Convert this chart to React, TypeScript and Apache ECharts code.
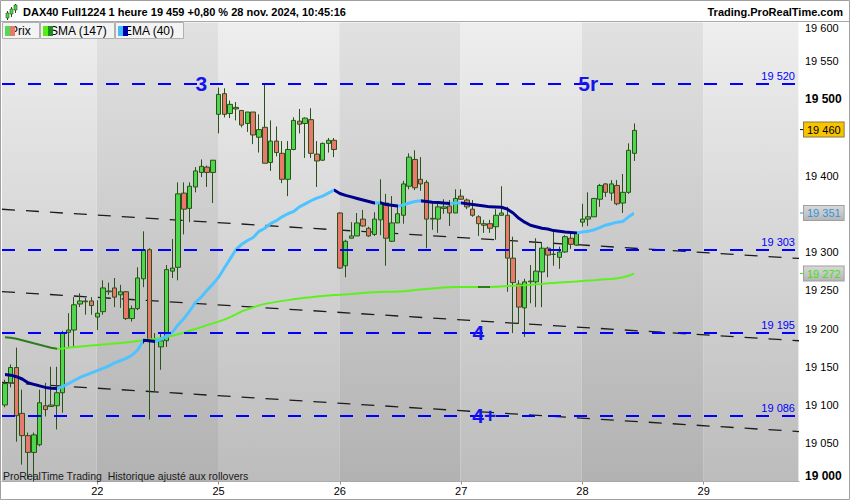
import React, { useEffect, useRef } from "react";
import * as echarts from "echarts";

const FONT = 'Arial, "Liberation Sans", Helvetica, sans-serif';

// ---- time axis ----
const dayNames = ["21", "22", "25", "26", "27", "28", "29"];
const dayFirstHour = [6, 1, 1, 1, 1, 1, 1];
const dayLastHour = [21, 21, 21, 21, 21, 21, 17];

// ---- hourly candles (DAX40 Full1224) ----
const opens = [
  19100, 19129, 19149, 19089, 19060, 19038, 19048, 19099, 19098, 19099, 19116, 19195, 19198, 19232, 19235, 19236,
  19215, 19222, 19248, 19253, 19244, 19248, 19213, 19226, 19265, 19303, 19186, 19176, 19184, 19275, 19280, 19377, 19357, 19385, 19404, 19411, 19404,
  19480, 19507, 19481, 19489, 19485, 19468, 19483, 19450, 19463, 19417, 19445, 19429, 19395, 19434, 19471, 19468, 19473, 19428, 19420, 19442, 19446,
  19351, 19282, 19318, 19321, 19343, 19331, 19323, 19342, 19364, 19314, 19338, 19348, 19386, 19421, 19395, 19391, 19343, 19343, 19357, 19360, 19351,
  19373, 19368, 19356, 19346, 19337, 19337, 19333, 19348, 19348, 19292, 19258, 19227, 19261, 19261, 19274, 19305, 19297, 19293, 19300, 19318, 19309,
  19339, 19343, 19346, 19369, 19389, 19377, 19387, 19364, 19378, 19429,
];
const closes = [
  19128, 19149, 19086, 19060, 19038, 19061, 19103, 19094, 19100, 19116, 19194, 19198, 19231, 19236, 19236, 19230,
  19220, 19253, 19249, 19241, 19248, 19213, 19226, 19266, 19303, 19185, 19186, 19184, 19277, 19279, 19376, 19356, 19386, 19406, 19412, 19404, 19420,
  19506, 19480, 19493, 19487, 19466, 19483, 19453, 19460, 19416, 19445, 19430, 19395, 19434, 19472, 19467, 19475, 19429, 19419, 19442, 19446, 19434,
  19279, 19314, 19321, 19338, 19334, 19321, 19343, 19363, 19318, 19338, 19350, 19389, 19424, 19384, 19389, 19343, 19344, 19359, 19359, 19351, 19370,
  19369, 19359, 19348, 19337, 19335, 19331, 19348, 19351, 19292, 19260, 19228, 19261, 19262, 19275, 19305, 19296, 19297, 19300, 19320, 19310, 19325,
  19343, 19346, 19370, 19387, 19378, 19389, 19363, 19378, 19433, 19459,
];
const lows = [
  19097, 19123, 19052, 19022, 19003, 19000, 19046, 19085, 19098, 19068, 19090, 19176, 19176, 19228, 19218, 19218,
  19198, 19218, 19244, 19228, 19227, 19211, 19209, 19224, 19254, 19081, 19117, 19146, 19176, 19266, 19263, 19323, 19339, 19378, 19398, 19385, 19364,
  19455, 19476, 19475, 19472, 19463, 19457, 19441, 19430, 19416, 19406, 19425, 19390, 19373, 19433, 19455, 19423, 19423, 19385, 19419, 19430, 19424,
  19278, 19267, 19318, 19321, 19333, 19320, 19321, 19322, 19282, 19313, 19338, 19337, 19382, 19381, 19380, 19305, 19329, 19325, 19350, 19334, 19351,
  19368, 19356, 19346, 19321, 19325, 19325, 19316, 19347, 19248, 19194, 19206, 19189, 19233, 19228, 19228, 19267, 19282, 19278, 19299, 19304, 19308,
  19333, 19334, 19346, 19359, 19372, 19367, 19361, 19351, 19376, 19419,
];
const highs = [
  19133, 19153, 19175, 19120, 19064, 19064, 19120, 19129, 19150, 19150, 19197, 19220, 19241, 19246, 19240, 19241,
  19237, 19263, 19260, 19266, 19257, 19249, 19230, 19280, 19327, 19305, 19194, 19194, 19283, 19317, 19391, 19391, 19391, 19411, 19421, 19413, 19420,
  19515, 19514, 19498, 19496, 19485, 19483, 19483, 19480, 19519, 19472, 19464, 19445, 19445, 19476, 19487, 19476, 19488, 19445, 19443, 19449, 19449,
  19352, 19316, 19339, 19351, 19355, 19333, 19352, 19395, 19376, 19373, 19361, 19393, 19429, 19433, 19424, 19394, 19364, 19365, 19369, 19368, 19382,
  19382, 19370, 19368, 19348, 19342, 19342, 19356, 19386, 19359, 19320, 19263, 19265, 19283, 19318, 19313, 19307, 19326, 19307, 19322, 19325, 19326,
  19363, 19378, 19370, 19389, 19390, 19394, 19394, 19402, 19442, 19468,
];

// ---- indicators ----
const sma147 = [
  19188.7, 19187.8, 19186.5, 19184.6, 19182.6, 19180.6, 19178.7, 19176.7, 19174.8, 19173.5,
  19174, 19174.8, 19175.7, 19176.5, 19177.1, 19177.8, 19178.4, 19179, 19179.6, 19180.3,
  19180.9, 19181.7, 19182.6, 19183.7, 19184.8, 19185.7, 19186.5, 19187.5, 19188.8, 19190.4,
  19192.4, 19194.6, 19197, 19199.3, 19201.8, 19204.4, 19206.7, 19209, 19211.6, 19214.8,
  19218.5, 19222.4, 19225, 19227.6, 19230.2, 19232.2, 19233.5, 19234.8, 19236.1, 19237.1,
  19238.2, 19239.2, 19240.3, 19241, 19241.8, 19242.5, 19243.1, 19243.7, 19244, 19244.6,
  19245.1, 19245.7, 19246.4, 19246.9, 19247.4, 19247.8, 19248.1, 19248.2, 19248.3, 19248.6,
  19249.4, 19250.2, 19251, 19251.7, 19252.4, 19253, 19253.6, 19254, 19254.1, 19254.2,
  19254.3, 19254.4, 19254.4, 19254.2, 19254.1, 19254.6, 19255, 19255.4, 19255.8, 19256.3,
  19256.7, 19257.2, 19257.8, 19258.3, 19259, 19259.6, 19260.1, 19260.6, 19261, 19261.5,
  19262.2, 19262.7, 19263.2, 19263.8, 19264.3, 19264.8, 19265.7, 19267, 19269, 19272,
];
const ema40 = [
  19140, 19139, 19137, 19134, 19129, 19127, 19125, 19123, 19122, 19121.5,
  19124, 19128, 19132, 19136, 19139, 19142, 19145, 19148, 19151, 19155,
  19158, 19161, 19165, 19172, 19184.5, 19184, 19183, 19186, 19190, 19195,
  19205, 19213, 19223, 19234, 19241, 19250, 19258, 19267, 19279, 19291,
  19303, 19310, 19315, 19319, 19327, 19331, 19337, 19341, 19346, 19350,
  19353, 19359, 19363, 19367, 19370.5, 19373, 19377, 19381, 19376.5, 19374,
  19372, 19370, 19368, 19366, 19364, 19364.5, 19362, 19361, 19360, 19361.5,
  19364, 19366, 19367, 19366, 19365, 19364.8, 19364, 19363.5, 19364, 19364.2,
  19363, 19362, 19361, 19360, 19359, 19358.8, 19358.5, 19356, 19351, 19344,
  19339, 19335, 19333, 19331, 19330, 19328, 19327, 19326, 19325.5, 19325,
  19326, 19327, 19329, 19332, 19335, 19337, 19339, 19340, 19346, 19351,
];

// ---- drawn levels & annotations ----
const levelLines = [19520, 19303, 19195, 19086];
const waveIndex = [34, 101, 82, 83];
const wavePrice = [19520, 19520, 19195, 19086];
const waveText = ["3", "5r", "4", "4+"];
const trendStartPrice = [19355.9, 19248.3, 19129.6];
const trendEndPrice = [19291.6, 19184.0, 19065.3];
const lastPriceTag = 19460;
const emaTag = 19351;
const smaTag = 19272;
const yMin = 19000;
const yMax = 19600;
const yStep = 50;

const categories: string[] = [];
const dayStartIdx: number[] = [];
dayNames.forEach((d, i) => {
  dayStartIdx.push(categories.length);
  for (let h = dayFirstHour[i]; h <= dayLastHour[i]; h++) {
    categories.push(`${d} ${String(h).padStart(2, "0")}h`);
  }
});

function fmt(v: number): string {
  const s = String(Math.round(v));
  return s.slice(0, s.length - 3) + " " + s.slice(-3);
}

function dirPieces(vals: number[], upColor: string, downColor: string) {
  const pieces: any[] = [];
  let start = 0;
  let up = vals[1] >= vals[0];
  for (let i = 2; i < vals.length; i++) {
    const u = vals[i] >= vals[i - 1];
    if (u !== up) {
      pieces.push(start === 0 ? { gte: 0, lte: i - 1, color: up ? upColor : downColor } : { gt: start, lte: i - 1, color: up ? upColor : downColor });
      start = i - 1;
      up = u;
    }
  }
  pieces.push(start === 0 ? { gte: 0, lte: vals.length - 1, color: up ? upColor : downColor } : { gt: start, lte: vals.length - 1, color: up ? upColor : downColor });
  return pieces;
}

const grad = (a: string, b: string) => ({
  type: "linear", x: 0, y: 0, x2: 0, y2: 1,
  colorStops: [{ offset: 0, color: a }, { offset: 1, color: b }],
});

export default function App() {
  const ref = useRef<HTMLDivElement>(null);
  useEffect(() => {
    document.body.style.margin = "0";
    if (!ref.current) return;
    const chart = echarts.init(ref.current, null, { renderer: "svg" });
    const n = categories.length;
    const candleData = opens.map((o, i) => [o, closes[i], lows[i], highs[i]]);
    const tagValues = [lastPriceTag, emaTag, smaTag];

    const bands = dayStartIdx.map((s, i) => [
      { xAxis: i === 0 ? -0.5 : s - 0.1, itemStyle: { color: i % 2 === 0 ? grad("#eeeeee", "#bcbcbc") : grad("#e1e1e1", "#b2b2b2") } },
      { xAxis: i === dayStartIdx.length - 1 ? n - 0.6 : dayStartIdx[i + 1] - 0.1 },
    ]);

    const isDayStart = (idx: number) => dayStartIdx.indexOf(idx) >= 0 && idx > 0;

    const tag = (value: number, text: string, bg: any, color: string, border: string, tick: string) => ({
      yAxis: value,
      lineStyle: { color: "rgba(0,0,0,0)", width: 0 },
      label: {
        show: true, position: "end", distance: 1,
        formatter: `{t|}{b|${text}}`,
        rich: {
          t: { width: 4, height: 1, backgroundColor: tick },
          b: {
            backgroundColor: bg, color, borderColor: border, borderWidth: 1,
            padding: [2, 3, 1, 3], fontSize: 11, fontFamily: FONT,
          },
        },
      },
    });

    const legendItems = [
      { x: 2, w: 37, text: "Prix", tx: 10, c1: "#55d855", c2: "#e8786c" },
      { x: 40, w: 74, text: "SMA (147)", tx: 50, c1: "#55ee11", c2: "#1e8c1e" },
      { x: 115, w: 68, text: "EMA (40)", tx: 124, c1: "#44bbff", c2: "#0000aa" },
    ];
    const legendGraphics: any[] = [];
    legendItems.forEach((it) => {
      legendGraphics.push({ type: "rect", z: 100, shape: { x: it.x + 0.5, y: 22.5, width: it.w, height: 16 }, style: { fill: "#f3f3f3", stroke: "#b0b0b0", lineWidth: 1 } });
      legendGraphics.push({ type: "text", z: 101, x: it.tx, y: 31, style: { text: it.text, fontSize: 12, fontFamily: FONT, fill: "#000", textVerticalAlign: "middle", verticalAlign: "middle" } });
      legendGraphics.push({ type: "rect", z: 102, shape: { x: it.x + 3, y: 26, width: 5, height: 10 }, style: { fill: it.c1 } });
      legendGraphics.push({ type: "rect", z: 102, shape: { x: it.x + 8, y: 26, width: 5, height: 10 }, style: { fill: it.c2 } });
    });

    const option: any = {
      animation: false,
      textStyle: { fontFamily: FONT },
      grid: { left: 2, right: 51, top: 22.5, bottom: 18.5 },
      xAxis: [
        {
          type: "category", data: categories, boundaryGap: true,
          axisLine: { show: true, lineStyle: { color: "#a0a0a0" } },
          axisTick: { show: true, alignWithLabel: true, interval: (i: number) => isDayStart(i), length: 3, lineStyle: { color: "#909090" } },
          axisLabel: { interval: (i: number) => isDayStart(i), formatter: (v: string) => v.split(" ")[0], color: "#000", fontSize: 11, margin: 4, fontFamily: FONT },
          splitLine: { show: false },
        },
        { type: "value", min: -0.5, max: n - 0.5, show: false },
      ],
      yAxis: {
        type: "value", position: "right", min: yMin, max: yMax, interval: yStep,
        axisLine: { show: true, lineStyle: { color: "#a0a0a0" } },
        axisTick: { show: true, length: 4, lineStyle: { color: "#909090" } },
        splitLine: { show: false },
        axisLabel: {
          color: "#000", fontSize: 11, margin: 6, fontFamily: FONT,
          verticalAlignMaxLabel: "top", verticalAlignMinLabel: "bottom",
          // labels covered by the price tags are not drawn (as in the reference)
          formatter: (v: number) =>
            tagValues.some((t) => Math.abs(t - v) < 12) ? "" : v % 500 === 0 ? `{b|${fmt(v)}}` : fmt(v),
          rich: { b: { fontWeight: "bold", fontSize: 12, color: "#000", fontFamily: FONT } },
        },
      },
      visualMap: [
        { show: false, seriesIndex: 5, dimension: 0, pieces: dirPieces(sma147, "#5cf01c", "#2a7d1a") },
        { show: false, seriesIndex: 6, dimension: 0, pieces: dirPieces(ema40, "#4ec3ff", "#00008c") },
      ],
      series: [
        {
          type: "line", xAxisIndex: 1, data: [], silent: true,
          markArea: { silent: true, data: bands },
        },
        ...trendStartPrice.map((p, i) => ({
          type: "line", xAxisIndex: 1, silent: true, symbol: "none", z: 2,
          data: [[-0.5, p], [n - 0.5, trendEndPrice[i]]],
          lineStyle: { color: "#1c1c1c", width: 1.3, type: [13, 11] },
        })),
        {
          type: "candlestick", data: candleData, barWidth: 5, z: 3,
          itemStyle: { color: "#4fd64f", color0: "#e8796c", borderColor: "#2a5218", borderColor0: "#2a5218", borderWidth: 1 },
          markLine: {
            silent: true, symbol: ["none", "none"],
            data: [
              ...levelLines.map((v) => ({
                yAxis: v,
                lineStyle: { color: "#0000ff", width: 2, type: [13, 13] },
                label: { show: true, position: "insideEndTop", formatter: fmt(v), color: "#0000ff", fontSize: 11, fontFamily: FONT, distance: [4, 2] },
              })),
              tag(lastPriceTag, fmt(lastPriceTag), "#f8c400", "#000", "#8a7a40", "#000"),
            ],
          },
          markPoint: {
            silent: true,
            data: waveText.map((t, i) => ({
              coord: [categories[waveIndex[i]], wavePrice[i]],
              symbol: "rect", symbolSize: 1, itemStyle: { color: "rgba(0,0,0,0)" },
              label: { show: true, position: "inside", formatter: t, color: "#1414ee", fontSize: 21, fontWeight: "bold", fontFamily: FONT },
            })),
          },
        },
        {
          type: "line", data: sma147, symbol: "none", showSymbol: false, z: 4, silent: true,
          lineStyle: { width: 2 },
          markLine: { silent: true, symbol: ["none", "none"], data: [tag(smaTag, fmt(smaTag), grad("#d8d8d8", "#b6b6b6"), "#3fe30f", "#a0a0a0", "#3fe30f")] },
        },
        {
          type: "line", data: ema40, symbol: "none", showSymbol: false, z: 4, silent: true,
          lineStyle: { width: 3 },
          markLine: { silent: true, symbol: ["none", "none"], data: [tag(emaTag, fmt(emaTag), grad("#d8d8d8", "#b6b6b6"), "#2f96e0", "#a0a0a0", "#2f96e0")] },
        },
      ],
      graphic: [
        { type: "rect", z: 99, shape: { x: 0, y: 0, width: 850, height: 21 }, style: { fill: "#ffffff" } },
        { type: "line", z: 100, shape: { x1: 0, y1: 21.5, x2: 850, y2: 21.5 }, style: { stroke: "#a8a8a8", lineWidth: 1 } },
        // header icon
        { type: "line", z: 100, shape: { x1: 7.5, y1: 11, x2: 7.5, y2: 20 }, style: { stroke: "#2a5218" } },
        { type: "rect", z: 101, shape: { x: 6, y: 13, width: 3, height: 5 }, style: { fill: "#4fd64f", stroke: "#2a5218", lineWidth: 0.6 } },
        { type: "line", z: 100, shape: { x1: 11.5, y1: 7, x2: 11.5, y2: 17 }, style: { stroke: "#2a5218" } },
        { type: "rect", z: 101, shape: { x: 10, y: 9, width: 3, height: 5 }, style: { fill: "#4fd64f", stroke: "#2a5218", lineWidth: 0.6 } },
        { type: "line", z: 100, shape: { x1: 15.5, y1: 4, x2: 15.5, y2: 13 }, style: { stroke: "#2a5218" } },
        { type: "rect", z: 101, shape: { x: 14, y: 5, width: 3, height: 5 }, style: { fill: "#4fd64f", stroke: "#2a5218", lineWidth: 0.6 } },
        { type: "text", z: 101, x: 23, y: 11.5, style: { text: "DAX40 Full1224 1 heure 19 459 +0,80 % 28 nov. 2024, 10:45:16", fontSize: 11, fontWeight: "bold", fontFamily: FONT, fill: "#000", textVerticalAlign: "middle", verticalAlign: "middle" } },
        { type: "text", z: 101, x: 843, y: 11.5, style: { text: "Trading.ProRealTime.com", fontSize: 11, fontWeight: "bold", fontFamily: FONT, fill: "#000", textAlign: "right", align: "right", textVerticalAlign: "middle", verticalAlign: "middle" } },
        ...legendGraphics,
        { type: "text", z: 101, x: 3, y: 476, style: { text: "ProRealTime Trading  Historique ajusté aux rollovers", fontSize: 10.5, fontFamily: FONT, fill: "#1a1a1a", textVerticalAlign: "middle", verticalAlign: "middle" } },
        { type: "rect", z: 110, shape: { x: 0.5, y: 0.5, width: 849, height: 499 }, style: { fill: "none", stroke: "#a0a0a0", lineWidth: 1 } },
      ],
    };
    chart.setOption(option);
    return () => chart.dispose();
  }, []);
  return <div ref={ref} style={{ width: 850, height: 500, position: "absolute", left: 0, top: 0 }} />;
}
